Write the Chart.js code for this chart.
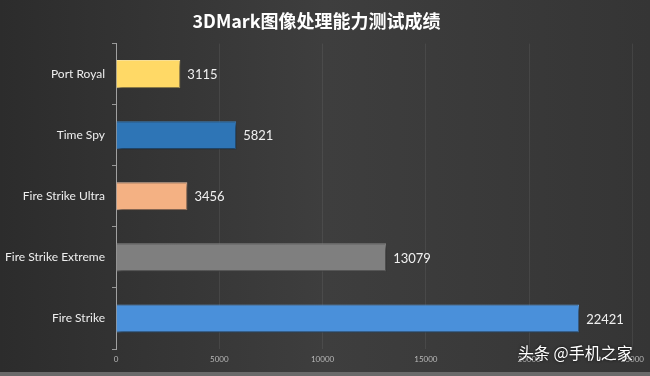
<!DOCTYPE html>
<html>
<head>
<meta charset="utf-8">
<script src="https://cdn.jsdelivr.net/npm/chart.js@4"></script>
<style>
  html, body { margin: 0; padding: 0; background: #383838; }
  #wrap { position: relative; width: 650px; height: 376px; }
  #mark {
    position: absolute; left: 518px; top: 342px; white-space: nowrap;
    font-family: "Noto Sans CJK SC", sans-serif; font-size: 16px; line-height: 20px;
    color: #fff; text-shadow: 0 0 3px rgba(0,0,0,0.8);
  }
</style>
</head>
<body>
<div id="wrap">
  <canvas id="chart" width="650" height="376"></canvas>
  <div id="mark">头条 @手机之家</div>
</div>
<script>
const title = '3DMark图像处理能力测试成绩';
const categories = ['Port Royal', 'Time Spy', 'Fire Strike Ultra', 'Fire Strike Extreme', 'Fire Strike'];
const scores = [3115, 5821, 3456, 13079, 22421];
const barColors = ['#FFD966', '#2E75B6', '#F4B183', '#7F7F7F', '#4A90DA'];
const edgeColors = ['#FFE699', '#3F83C2', '#F8CBAD', '#8C8C8C', '#6AA6E4'];

// background and shadows
const backdrop = {
  id: 'backdrop',
  beforeDraw(chart) {
    const { ctx, width, height } = chart;
    const g = ctx.createLinearGradient(0, 0, width, 0);
    g.addColorStop(0, '#2c2c2c');
    g.addColorStop(0.5, '#3e3e3e');
    g.addColorStop(1, '#353535');
    ctx.save();
    ctx.fillStyle = g;
    ctx.fillRect(0, 0, width, height);
    ctx.fillStyle = '#6a6a6a';
    ctx.fillRect(0, height - 4, width, 4);
    ctx.restore();
  },
  beforeDatasetsDraw(chart) {
    const ctx = chart.ctx;
    ctx.save();
    ctx.shadowColor = 'rgba(0,0,0,0.6)';
    ctx.shadowBlur = 4;
    ctx.shadowOffsetX = 2;
    ctx.shadowOffsetY = 3;
  },
  afterDatasetsDraw(chart) {
    chart.ctx.restore();
  }
};

// value next to each bar
const valueLabels = {
  id: 'valueLabels',
  afterDatasetsDraw(chart) {
    const { ctx } = chart;
    const meta = chart.getDatasetMeta(0);
    ctx.save();
    ctx.font = '13px Lato, "Open Sans", sans-serif';
    ctx.fillStyle = '#f0f0f0';
    ctx.textBaseline = 'middle';
    meta.data.forEach((bar, i) => {
      ctx.fillText(scores[i], bar.x + 7, bar.y + 1);
    });
    ctx.restore();
  }
};

new Chart(document.getElementById('chart'), {
  type: 'bar',
  data: {
    labels: categories,
    datasets: [{
      data: scores,
      backgroundColor: barColors,
      borderColor: edgeColors,
      borderWidth: 1,
      categoryPercentage: 1,
      barPercentage: 0.46
    }]
  },
  options: {
    indexAxis: 'y',
    responsive: false,
    animation: false,
    layout: { padding: { left: 0, right: 17, top: 0, bottom: 0 } },
    plugins: {
      legend: { display: false },
      tooltip: { enabled: false },
      title: {
        display: true,
        text: title,
        color: '#ffffff',
        font: { family: '"Noto Sans CJK SC", sans-serif', size: 18, weight: 'bold' },
        padding: { top: 10, bottom: 12 }
      }
    },
    scales: {
      x: {
        min: 0,
        max: 25000,
        ticks: {
          stepSize: 5000,
          color: '#b8b8b8',
          font: { family: 'Lato, sans-serif', size: 8 },
          padding: 6,
          callback: v => String(v)
        },
        grid: { color: 'rgba(255,255,255,0.07)', drawTicks: false },
        border: { display: false },
        afterFit(axis) { axis.height = 27; }
      },
      y: {
        ticks: {
          color: '#eeeeee',
          font: { family: 'Lato, "Open Sans", sans-serif', size: 12 },
          padding: 7
        },
        grid: { offset: true, drawOnChartArea: false, color: '#999999', tickLength: 4 },
        border: { display: true, color: '#a0a0a0' },
        afterFit(axis) { axis.width = 116; }
      }
    }
  },
  plugins: [backdrop, valueLabels]
});
</script>
</body>
</html>
